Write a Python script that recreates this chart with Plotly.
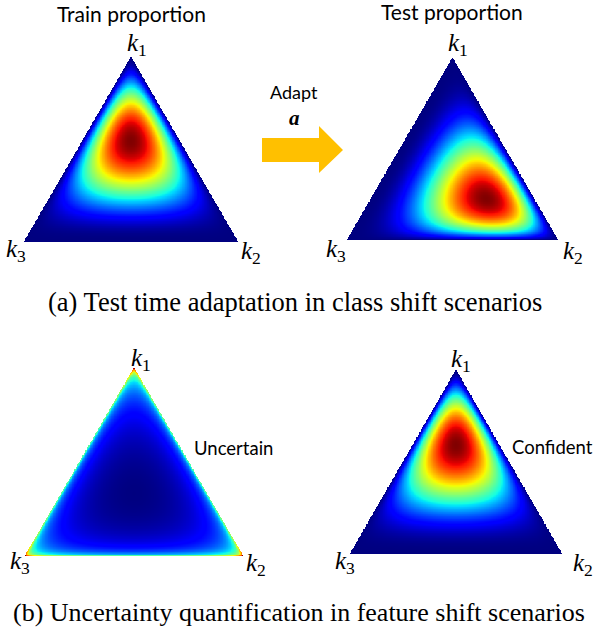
import numpy as np
import plotly.graph_objects as go
from math import lgamma, sqrt

W, H = 601, 633

# ---- data: Dirichlet concentration parameters (k1, k2, k3) for each panel ----
alpha_train = [3.4, 2.0, 2.0]
alpha_test = [2.0, 3.4, 2.0]
alpha_uncertain = [0.98, 0.98, 0.98]
alpha_confident = [3.6, 1.9, 1.9]
panel_alphas = [alpha_train, alpha_test, alpha_uncertain, alpha_confident]

panel_titles = ["Train proportion", "Test proportion", "", ""]
panel_side_notes = ["", "", "Uncertain", "Confident"]
vertex_labels = ["k", "k", "k"]
vertex_subs = ["1", "2", "3"]
caption_a = "(a) Test time adaptation in class shift scenarios"
caption_b = "(b) Uncertainty quantification in feature shift scenarios"
adapt_label = "Adapt"
adapt_symbol = "a"

# ---- layout (pixel boxes of each triangle: left, right, top, bottom) ----
boxes = [(24, 238, 57, 242), (347, 558, 58, 240), (25, 243, 368, 556), (350, 562, 370, 554)]


def jet_scale():
    stops = [0, 0.11, 0.125, 0.34, 0.35, 0.375, 0.64, 0.65, 0.66, 0.89, 0.91, 1.0]
    r = np.interp(stops, [0, 0.35, 0.66, 0.89, 1], [0, 0, 1, 1, 0.5])
    g = np.interp(stops, [0, 0.125, 0.375, 0.64, 0.91, 1], [0, 0, 1, 1, 0, 0])
    b = np.interp(stops, [0, 0.11, 0.34, 0.65, 1], [0.5, 1, 1, 0, 0])
    return [[s, f"rgb({int(round(rr*255))},{int(round(gg*255))},{int(round(bb*255))})"]
            for s, rr, gg, bb in zip(stops, r, g, b)]


JET = jet_scale()
HT = sqrt(3) / 2


def dirichlet_grid(alpha, n_cols=300, tol=0.002):
    n_rows = int(round(n_cols * HT))
    xs = (np.arange(n_cols) + 0.5) / n_cols
    ys = (np.arange(n_rows) + 0.5) / n_rows * HT
    X, Y = np.meshgrid(xs, ys)
    b1 = Y / HT
    b2 = X - 0.5 * b1
    b3 = 1 - b1 - b2
    B = np.stack([b1, b2, b3])
    inside = (B >= -0.5 / n_cols).all(axis=0)
    B = np.clip(B, tol, 1.0)
    B = B / B.sum(axis=0)
    a = np.array(alpha)[:, None, None]
    lognorm = lgamma(sum(alpha)) - sum(lgamma(v) for v in alpha)
    logp = lognorm + ((a - 1) * np.log(B)).sum(axis=0)
    p = np.exp(logp)
    p = p / p[inside].max()
    z = np.where(inside, np.round(p, 4), np.nan)
    zl = [[None if np.isnan(v) else float(v) for v in row] for row in z]
    return xs, ys, zl


fig = go.Figure()
layout_axes = {}
for i, (alpha, box) in enumerate(zip(panel_alphas, boxes)):
    xs, ys, z = dirichlet_grid(alpha)
    sfx = "" if i == 0 else str(i + 1)
    fig.add_trace(go.Heatmap(
        x0=float(xs[0]), dx=float(xs[1] - xs[0]), y0=float(ys[0]), dy=float(ys[1] - ys[0]),
        z=z, colorscale=JET, showscale=False, hoverinfo="skip",
        xaxis="x" + sfx, yaxis="y" + sfx, zsmooth=False))
    l, r, t, btm = box
    layout_axes["xaxis" + sfx] = dict(domain=[l / W, r / W], range=[0, 1], visible=False,
                                      fixedrange=True, anchor="y" + sfx)
    layout_axes["yaxis" + sfx] = dict(domain=[1 - btm / H, 1 - t / H], range=[0, HT], visible=False,
                                      fixedrange=True, anchor="x" + sfx)


def px(x, y):
    return x / W, 1 - y / H


annotations = []


def add_text(text, x, y, size, family, color="black"):
    xx, yy = px(x, y)
    annotations.append(dict(text=text, x=xx, y=yy, xref="paper", yref="paper", showarrow=False,
                            xanchor="center", yanchor="middle",
                            font=dict(size=size, family=family, color=color)))


SANS = "Lato"
SERIF = "Liberation Serif"

# titles
add_text(panel_titles[0], 131, 13, 21, SANS)
add_text(panel_titles[1], 452, 12, 21, SANS)

# vertex labels (k1 top, k2 bottom-right, k3 bottom-left)
vertex_pos = [
    [(137, 45), (251, 252), (16, 250)],
    [(458, 45), (573, 252), (336, 250)],
    [(141, 359), (256, 564), (20, 562)],
    [(461, 360), (583, 564), (345, 562)],
]
for pos in vertex_pos:
    for (x, y), k, s in zip(pos, vertex_labels, vertex_subs):
        add_text(f"<i>{k}</i><sub>{s}</sub>", x, y, 25, SERIF)

# side notes
add_text(panel_side_notes[2], 233, 448, 18.5, SANS)
add_text(panel_side_notes[3], 552, 447, 18.5, SANS)

# adapt arrow label
add_text(adapt_label, 294, 92, 18, SANS)
add_text(f"<b><i>{adapt_symbol}</i></b>", 294, 118, 21, SERIF)

# captions
add_text(caption_a, 295, 302, 26.5, SERIF)
add_text(caption_b, 299, 612, 26, SERIF)

# arrow shape
pts = [(262, 138), (319, 138), (319, 126), (343, 150), (319, 173), (319, 162), (262, 162)]
path = "M " + " L ".join(f"{px(x, y)[0]:.5f},{px(x, y)[1]:.5f}" for x, y in pts) + " Z"
shapes = [dict(type="path", path=path, xref="paper", yref="paper",
               fillcolor="#FFC000", line=dict(width=0))]

fig.update_layout(
    width=W, height=H, margin=dict(l=0, r=0, t=0, b=0),
    paper_bgcolor="white", plot_bgcolor="rgba(0,0,0,0)",
    annotations=annotations, shapes=shapes, showlegend=False,
    **layout_axes)

fig.write_html("out.html", config={"displayModeBar": False},
               post_script="document.body.style.margin='0';")
